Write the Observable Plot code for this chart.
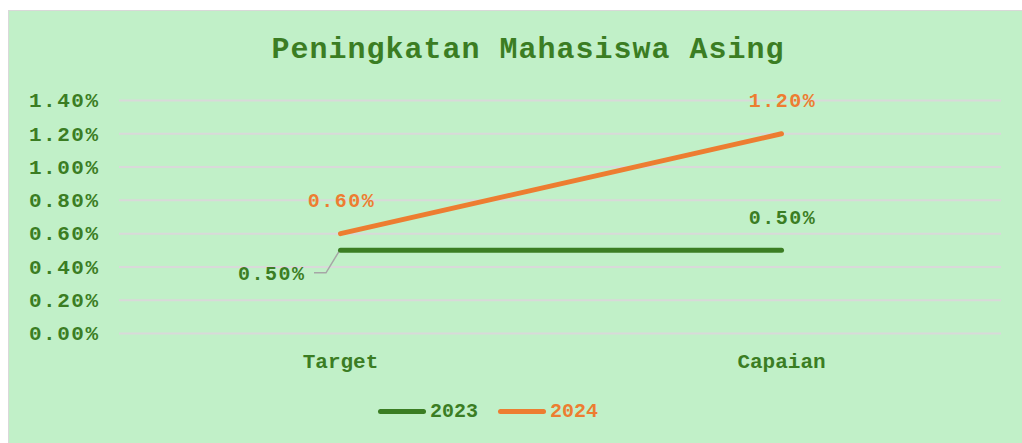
<!DOCTYPE html>
<html><head><meta charset="utf-8">
<script src="https://cdn.jsdelivr.net/npm/d3@7"></script>
<script src="https://cdn.jsdelivr.net/npm/@observablehq/plot@0.6"></script>
<style>
body{margin:0;background:#fff;}
#chart{position:absolute;left:8px;top:10px;width:1013px;height:433px;background:#c1f0c8;border-left:1px solid #d9d9d9;border-top:1px solid #d9d9d9;overflow:hidden;font-family:"Liberation Mono",monospace;}
#title{position:absolute;left:519px;top:24px;transform:translateX(-50%);white-space:nowrap;font-size:30px;line-height:30px;font-weight:bold;letter-spacing:1px;color:#3b7d23;}
#plot{position:absolute;left:0;top:75px;}
#legend{position:absolute;left:369px;top:388px;height:24px;display:flex;align-items:center;font-size:20px;font-weight:bold;}
.item{display:flex;align-items:center;margin-right:20px;}
.swatch{width:48px;height:5px;border-radius:3px;margin-right:4px;}
</style>
</head><body>
<div id="chart">
  <div id="title">Peningkatan Mahasiswa Asing</div>
  <div id="plot"></div>
  <div id="legend"></div>
</div>
<script>
const categories = ["Target", "Capaian"];
const seriesNames = ["2023", "2024"];
const values2023 = [0.5, 0.5];
const values2024 = [0.6, 1.2];
const yTicks = [0, 0.2, 0.4, 0.6, 0.8, 1.0, 1.2, 1.4];
const seriesColors = ["#3b7d23", "#ed7d31"];

const data = [
  ...categories.map((c, i) => ({cat: c, series: seriesNames[0], v: values2023[i]})),
  ...categories.map((c, i) => ({cat: c, series: seriesNames[1], v: values2024[i]}))
];
const fmt = d => d.toFixed(2) + "%";
const isLeft = d => d.series === seriesNames[0] && d.cat === categories[0];

const plot = Plot.plot({
  width: 1013, height: 300,
  marginLeft: 110, marginRight: 21, marginTop: 14, marginBottom: 53,
  style: {background: "transparent", fontFamily: "Liberation Mono, monospace", overflow: "visible"},
  x: {type: "point", domain: categories, padding: 0.5, label: null},
  y: {domain: [0, 1.4], label: null},
  color: {domain: seriesNames, range: seriesColors},
  marks: [
    Plot.ruleY(yTicks, {stroke: "#d9d9d9", strokeWidth: 2}),
    Plot.axisY({ticks: yTicks, tickSize: 0, tickPadding: 20, tickFormat: fmt, color: seriesColors[0], fontSize: 21, fontWeight: "bold", label: null}),
    Plot.axisX({tickSize: 0, tickPadding: 20, color: seriesColors[0], fontSize: 21, fontWeight: "bold", label: null}),
    (index, scales) => {
      const x0 = scales.x(categories[0]), y0 = scales.y(values2023[0]);
      const p = d3.create("svg:path")
        .attr("d", `M${x0 - 26},${y0 + 23}H${x0 - 14}L${x0},${y0}`)
        .attr("fill", "none").attr("stroke", "#a6a6a6").attr("stroke-width", 1.5);
      return p.node();
    },
    Plot.line(data, {x: "cat", y: "v", z: "series", stroke: "series", strokeWidth: 5, strokeLinecap: "round"}),
    Plot.text(data.filter(d => !isLeft(d)), {x: "cat", y: "v", text: d => fmt(d.v), fill: "series", dy: -33, dx: 1, fontSize: 20, fontWeight: 600}),
    Plot.text(data.filter(isLeft), {x: "cat", y: "v", text: d => fmt(d.v), fill: "series", dy: 23, dx: -35, textAnchor: "end", fontSize: 20, fontWeight: 600})
  ]
});
plot.querySelectorAll("g[aria-label='y-axis tick label'] text, g[aria-label='text'] text").forEach(t => t.style.letterSpacing = "1.5px");
document.getElementById("plot").appendChild(plot);

const legend = document.getElementById("legend");
seriesNames.forEach((s, i) => {
  const item = document.createElement("div");
  item.className = "item";
  const sw = document.createElement("span");
  sw.className = "swatch";
  sw.style.background = seriesColors[i];
  const tx = document.createElement("span");
  tx.textContent = s;
  tx.style.color = seriesColors[i];
  item.appendChild(sw); item.appendChild(tx);
  legend.appendChild(item);
});
</script>
</body></html>
